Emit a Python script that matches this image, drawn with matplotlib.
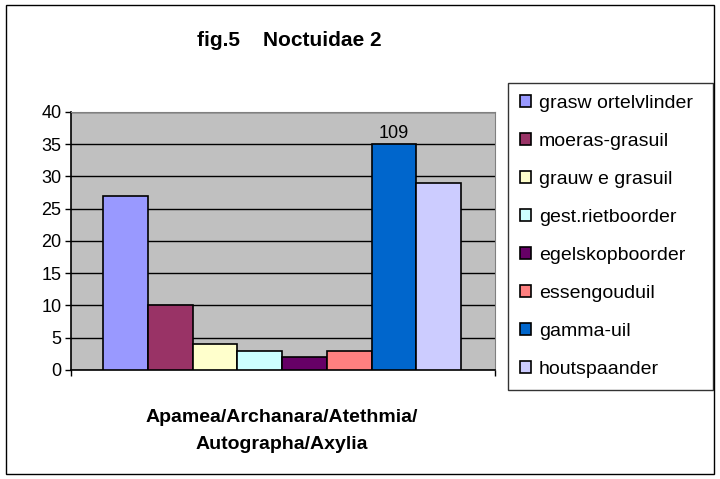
import matplotlib.pyplot as plt
from matplotlib.patches import Rectangle

plt.rcParams['font.family'] = ['Liberation Sans', 'DejaVu Sans']

species = ['grasw ortelvlinder', 'moeras-grasuil', 'grauw e grasuil', 'gest.rietboorder',
           'egelskopboorder', 'essengouduil', 'gamma-uil', 'houtspaander']
counts = [27, 10, 4, 3, 2, 3, 109, 29]
colors = ['#9999FF', '#993366', '#FFFFCC', '#CCFFFF', '#660066', '#FF8080', '#0066CC', '#CCCCFF']
y_ticks = [0, 5, 10, 15, 20, 25, 30, 35, 40]
cap = 35  # bars above this are cut off and labelled

fig = plt.figure(figsize=(7.2, 4.79), dpi=100)
fig.patches.append(Rectangle((0.008, 0.01), 0.984, 0.98, transform=fig.transFigure,
                             fill=False, edgecolor='black', linewidth=1))

ax = fig.add_axes([0.0986, 0.2276, 0.589, 0.5386])
ax.set_facecolor('#C0C0C0')

bar_w = 44.75 / 424 * 1.0
x0 = (103 - 71) / 424
handles = []
for i, (name, v, c) in enumerate(zip(species, counts, colors)):
    h = min(v, cap)
    b = ax.bar(x0 + i * bar_w, h, width=bar_w, align='edge', color=c,
               edgecolor='black', linewidth=1.2, label=name, zorder=3)
    handles.append(b)
    if v > cap:
        ax.text(x0 + (i + 0.5) * bar_w, h + 0.4, str(v), ha='center', va='bottom',
                fontsize=13, zorder=4)

ax.set_xlim(0, 1)
ax.set_ylim(0, 40)
ax.set_yticks(y_ticks)
ax.tick_params(axis='y', labelsize=13, direction='out', length=4, width=1, pad=3)
ax.set_xticks([0, 1])
ax.set_xticklabels(['', ''])
ax.tick_params(axis='x', direction='out', length=4, width=1)
ax.yaxis.grid(True, color='black', linewidth=1, zorder=1)
ax.set_axisbelow(True)
for s in ['top', 'right']:
    ax.spines[s].set_color('#808080')
for s in ['left', 'bottom']:
    ax.spines[s].set_color('black')
    ax.spines[s].set_linewidth(1.2)

fig.text(289 / 720, 1 - 41 / 479, 'fig.5    Noctuidae 2', ha='center', va='center',
         fontsize=15, fontweight='bold')
fig.text(282 / 720, 1 - 431 / 479, 'Apamea/Archanara/Atethmia/\nAutographa/Axylia',
         ha='center', va='center', fontsize=14, fontweight='bold', linespacing=1.75)

leg = fig.legend(handles=handles, loc='upper left', mode='expand',
                 bbox_to_anchor=(508 / 720, 1 - 387 / 479, 205 / 720, 304 / 479),
                 fontsize=14, frameon=True, fancybox=False, edgecolor='black',
                 handlelength=0.6, handleheight=0.6, handletextpad=0.4,
                 labelspacing=1.08, borderpad=0.6, borderaxespad=0)
leg.get_frame().set_linewidth(1)

fig.savefig('out.png', dpi=100)
